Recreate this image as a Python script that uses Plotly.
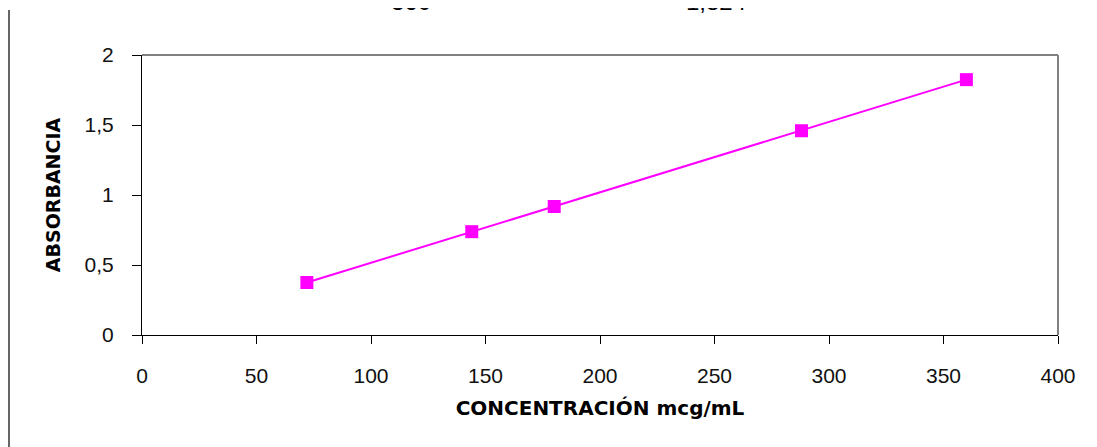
import plotly.graph_objects as go

# curva de calibracion
concentracion = [72, 144, 180, 288, 360]
absorbancia = [0.375, 0.738, 0.918, 1.459, 1.824]

x_ticks = [0, 50, 100, 150, 200, 250, 300, 350, 400]
y_ticks = [0, 0.5, 1, 1.5, 2]

# restos de la tabla de arriba (cortados)
top_labels = ["360", "1,824"]
top_label_x = [403, 708]

FONT = "Liberation Sans, Arial, sans-serif"
TITLE_FONT = "DejaVu Sans, Verdana, sans-serif"
W, H = 1097, 447
L, R, T, B = 134, 47, 47, 120
plot_w = W - L - R
plot_h = H - T - B


def px_to_paper_x(px):
    return (px - L) / plot_w


def px_to_paper_y(py):
    return (H - B - py) / plot_h


fig = go.Figure()

fig.add_trace(go.Scatter(
    x=concentracion,
    y=absorbancia,
    mode='markers+lines',
    line=dict(color='#ff00ff', width=2),
    marker=dict(symbol='square', size=13, color='#ff00ff'),
    showlegend=False,
))

fig.update_xaxes(
    range=[0, 400], tickvals=x_ticks, showgrid=False, zeroline=False,
    showline=True, linecolor='black', linewidth=1,
    ticks='outside', ticklen=8, tickcolor='black', ticklabelstandoff=14,
    tickfont=dict(family=FONT, size=21, color='#111'),
    title=dict(text='<b>CONCENTRACIÓN mcg/mL</b>', font=dict(family=TITLE_FONT, size=20, color='black'), standoff=14),
)
fig.update_yaxes(
    range=[0, 2], tickvals=y_ticks, showgrid=False, zeroline=False,
    showline=True, linecolor='black', linewidth=1,
    ticks='outside', ticklen=9, tickcolor='black', ticklabelstandoff=14,
    tickfont=dict(family=FONT, size=21, color='#111'),
    title=dict(text='<b>ABSORBANCIA</b>', font=dict(family=TITLE_FONT, size=19, color='black'), standoff=18),
)

# borde gris arriba y a la derecha
fig.add_shape(type='line', xref='paper', yref='paper', x0=0, x1=1, y0=1, y1=1,
              line=dict(color='#808080', width=2))
fig.add_shape(type='line', xref='paper', yref='paper', x0=1, x1=1, y0=0, y1=1,
              line=dict(color='#808080', width=2))
# linea vertical a la izquierda de la pagina
fig.add_shape(type='line', xref='paper', yref='paper',
              x0=px_to_paper_x(1), x1=px_to_paper_x(1),
              y0=px_to_paper_y(H + 5), y1=px_to_paper_y(2),
              line=dict(color='#666666', width=2))

for txt, px in zip(top_labels, top_label_x):
    fig.add_annotation(text=txt, xref='paper', yref='paper',
                       x=px_to_paper_x(px), y=px_to_paper_y(9),
                       xanchor='center', yanchor='bottom', showarrow=False,
                       font=dict(family=FONT, size=24, color='black'))

fig.update_layout(
    width=W, height=H,
    margin=dict(l=L, r=R, t=T, b=B),
    paper_bgcolor='white', plot_bgcolor='white',
    separators=',.',
    font=dict(family=FONT),
)

fig.write_html("out.html")
